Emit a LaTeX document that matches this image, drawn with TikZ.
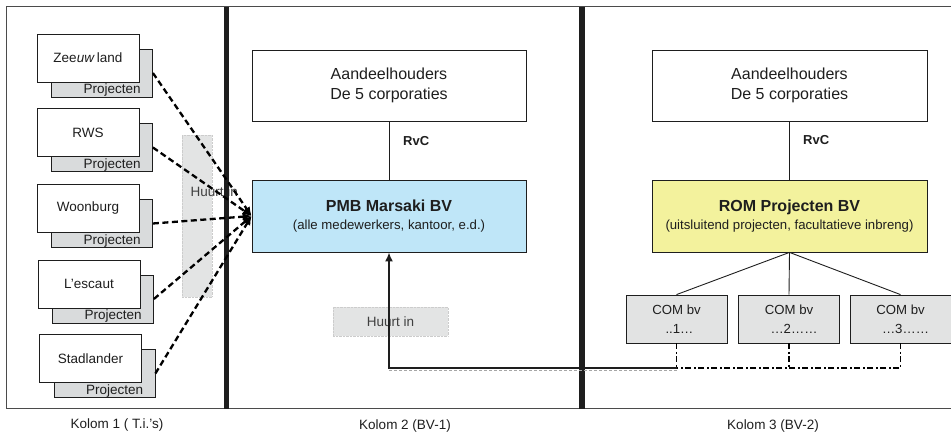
\documentclass[tikz,border=0pt]{standalone}
\usepackage{fontspec}
\setmainfont{Liberation Sans}
\usetikzlibrary{arrows.meta,calc}

\definecolor{pmbblue}{HTML}{BFE6F8}
\definecolor{romyellow}{HTML}{F3F29D}
\definecolor{projgray}{HTML}{D9DBDC}
\definecolor{huurgray}{HTML}{E3E4E4}
\definecolor{comgray}{HTML}{E2E3E3}
\definecolor{ink}{HTML}{1E1E1E}

\tikzset{
  tibox/.style={draw=ink, line width=0.8pt, fill=white, minimum width=102pt, minimum height=48pt,
    inner sep=0pt, text=ink, font=\fontsize{13.5}{16}\selectfont},
  projbox/.style={draw=ink, line width=0.8pt, fill=projgray, minimum width=101pt, minimum height=48pt, inner sep=0pt},
  projtext/.style={inner sep=0pt, text=ink, font=\fontsize{13.5}{16}\selectfont},
  huurbox/.style={draw=gray!40, densely dotted, fill=huurgray, inner sep=0pt},
  huurtext/.style={inner sep=0pt, text=ink!85, font=\fontsize{13.5}{16}\selectfont},
  bigbox/.style={draw=ink, line width=0.8pt, minimum width=274pt, minimum height=71pt, inner sep=0pt,
    align=center, text=ink, font=\fontsize{16}{20}\selectfont},
  combox/.style={draw=ink, line width=0.8pt, fill=comgray, minimum width=101pt, minimum height=48pt,
    inner sep=0pt, align=center, text=ink, font=\fontsize{13.2}{19}\selectfont},
  rvc/.style={inner sep=0pt, text=ink, font=\bfseries\fontsize{13}{15}\selectfont},
  kolom/.style={inner sep=0pt, text=ink, font=\fontsize{13.5}{16}\selectfont},
  kolomlijn/.style={line width=5.5pt, ink},
  huurpijl/.style={line width=2.3pt, dash pattern=on 6pt off 3.5pt, -{Latex[length=9pt,width=8pt]}},
  comlijn/.style={line width=1.8pt, dash pattern=on 6pt off 2.5pt on 2pt off 2.5pt}
}

\begin{document}
\begin{tikzpicture}[x=1pt,y=-1pt]
\useasboundingbox (0,0) rectangle (951,435);

% kader
\draw[ink!80, line width=1pt] (951,7) -- (6,7) -- (6,408.5) -- (951,408.5);

% kolom 1
\node[huurbox, minimum width=30pt, minimum height=162pt] (huur1) at (197,216) {};
\node[huurtext, anchor=west] (huur1t) at (190.5,192) {Huurt in};

\foreach \nm/\txt/\cx/\cy in {zl/{Zee\textit{uw}\,land}/88/58, rws/RWS/88/132.5,
    wb/Woonburg/88/208.5, le/{L’escaut}/89/284, sl/Stadlander/90.5/358.5}{
  \node[projbox] (\nm p) at (\cx+14,\cy+15) {};
  \node[projtext, anchor=base east] at ($(\nm p.south east)+(-12,-3.5)$) {Projecten};
  \node[tibox] (\nm) at (\cx,\cy) {\txt};
}

% kolom 2
\node[bigbox] (aand1) at (389,85.5) {Aandeelhouders\\De 5 corporaties};
\node[bigbox, fill=pmbblue, minimum height=72pt] (pmb) at (389,216)
  {{\bfseries\fontsize{16}{18}\selectfont PMB Marsaki BV}\\[-2pt]
   {\fontsize{13.2}{16}\selectfont (alle medewerkers, kantoor, e.d.)}};
\draw[ink, line width=0.9pt] (aand1) -- (pmb);
\node[rvc, anchor=west] (rvc1) at (403,141) {RvC};
\node[huurbox, minimum width=115pt, minimum height=29pt] (huur2) at (390.5,321.5) {};
\node[huurtext] (huur2t) at (390.5,321.5) {Huurt in};

% kolom 3
\node[bigbox, minimum width=275pt] (aand2) at (789.5,85.5) {Aandeelhouders\\De 5 corporaties};
\node[bigbox, fill=romyellow, minimum width=275pt, minimum height=72pt] (rom) at (789.5,216)
  {{\bfseries\fontsize{16}{18}\selectfont ROM Projecten BV}\\[-2pt]
   {\fontsize{13.2}{16}\selectfont (uitsluitend projecten, facultatieve inbreng)}};
\draw[ink, line width=0.9pt] (aand2) -- (rom);
\node[rvc, anchor=west] (rvc2) at (803,140) {RvC};

\node[combox] (com1) at (676.5,319) {COM bv\\\hspace{6pt}..1…};
\node[combox] (com2) at (789,319) {COM bv\\\hspace{10pt}…2……};
\node[combox] (com3) at (900.5,319) {COM bv\\\hspace{10pt}…3……};
\foreach \c in {com1,com2,com3} \draw[ink, line width=0.9pt] (rom.south) -- (\c.north);

% scheidingen
\draw[kolomlijn] (226.5,7) -- (226.5,409);
\draw[kolomlijn] (582,7) -- (582,409);

% inhuur door T.i.'s
\foreach \nm in {zl,rws,wb,le,sl} \draw[huurpijl] (\nm p.east) -- (pmb.west);

% inhuur door COM bv's
\coordinate (j1) at (com1.south |- 0,368);
\coordinate (j2) at (com2.south |- 0,368);
\coordinate (j3) at (com3.south |- 0,368);
\coordinate (j0) at (pmb.south |- 0,368);
\draw[gray!70, densely dashed, line width=0.8pt] ($(j0)+(0,2.5)$) -- ($(j1)+(0,2.5)$);
\draw[ink, line width=2pt, -{Latex[length=9pt,width=8pt]}] (j1) -- (j0) -- (pmb.south);
\draw[comlijn] (com1.south) -- (j1);
\draw[comlijn] (com2.south) -- (j2);
\draw[comlijn] (com3.south) -- (j3) -- (j1);

% kolomnamen
\node[kolom] (k1) at (117,425) {Kolom 1 ( T.i.’s)};
\node[kolom] (k2) at (405,426) {Kolom 2 (BV-1)};
\node[kolom] (k3) at (773,426) {Kolom 3 (BV-2)};
\end{tikzpicture}
\end{document}
